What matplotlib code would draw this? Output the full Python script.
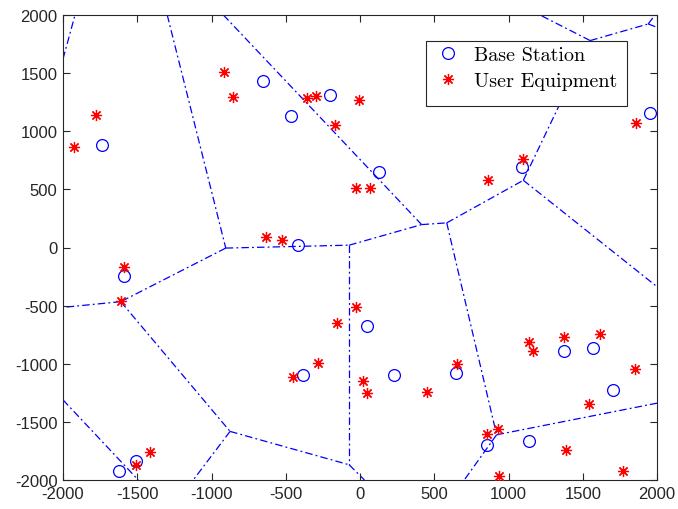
import matplotlib
matplotlib.use("Agg")
import matplotlib.pyplot as plt
from matplotlib.patches import Rectangle
import numpy as np

# Base station positions (m)
bs_x = [-1740, -651, -465, -202, -415, 128, 1093, 1953, -1589, -382,
        45, -1621, -1510, 231, 644, 1374, 1567, 1706, 1140, 857]
bs_y = [878, 1436, 1127, 1316, 20, 650, 693, 1159, -246, -1101,
        -675, -1920, -1840, -1101, -1082, -890, -861, -1225, -1668, -1702]

# User equipment positions (m)
ue_x = [-1924, -1780, -914, -857, -355, -296, -166, -5, -27, 70,
        -635, -527, 1100, 864, 1857, -1589, -1611, -449, -285, -157,
        -27, 18, 45, -1510, -1414, 651, 453, 1140, 1163, 1376,
        1616, 1852, 1544, 1385, 1773, 857, 927, 938]
ue_y = [864, 1136, 1508, 1293, 1285, 1302, 1050, 1265, 512, 508,
        92, 63, 764, 578, 1070, -166, -461, -1110, -990, -652,
        -515, -1147, -1253, -1869, -1762, -1004, -1245, -809, -890, -773,
        -747, -1047, -1345, -1745, -1920, -1605, -1562, -1968]

# Voronoi vertices (interior ones first, then where edges leave the area)
vx = [-904, -73, 415, 584, 920, 1100, 1550, 1941, -1611, -875, -73,
      -2000, -1919, -1298, 30, -1123, -2000, -1493, -920, 2000, 702,
      1212, 1986, 2000, 2000, -2000]
vy = [-5, 20, 197, 212, -1611, 578, 1780, 1923, -466, -1582, -1869,
      1622, 2000, 2000, -2000, -2000, -1311, -2000, 2000, -1339, -2000,
      2000, 2000, 1894, -337, -515]

# Voronoi edges as pairs of vertex indices
edges = [(11, 12), (13, 0), (0, 1), (1, 10), (10, 14), (9, 10), (8, 9),
         (0, 8), (8, 25), (9, 15), (16, 17), (1, 2), (18, 2), (2, 3),
         (3, 4), (4, 19), (4, 20), (3, 5), (5, 6), (6, 21), (6, 7),
         (7, 22), (7, 23), (5, 24)]

plt.rcParams["axes.unicode_minus"] = False

fig = plt.figure(figsize=(6.78, 5.10), dpi=100)
ax = fig.add_axes([63 / 678, 1 - 481 / 510, 594 / 678, 465 / 510])

for i, j in edges:
    ax.plot([vx[i], vx[j]], [vy[i], vy[j]], color="#0000ff", lw=0.9,
            dashes=(6, 2.5, 1.5, 2.5), zorder=1)

ax.plot(bs_x, bs_y, linestyle="none", marker="o", markersize=8.5,
        markerfacecolor="none", markeredgecolor="#0000ff",
        markeredgewidth=0.9, label="Base Station", zorder=3)
ax.plot(ue_x, ue_y, linestyle="none", marker=(8, 2, 0), markersize=8,
        color="#ff0000", markeredgewidth=0.9, label="User Equipment",
        zorder=3)

ax.set_xlim(-2000, 2000)
ax.set_ylim(-2000, 2000)
ticks = np.arange(-2000, 2001, 500)
ax.set_xticks(ticks)
ax.set_yticks(ticks)

axis_col = "#262626"
for s in ax.spines.values():
    s.set_color(axis_col)
    s.set_linewidth(0.8)
ax.tick_params(direction="in", top=True, right=True, length=5,
               width=0.8, color=axis_col, labelcolor=axis_col,
               labelsize=12, pad=4)
for lab in ax.get_xticklabels() + ax.get_yticklabels():
    lab.set_family("Liberation Sans")

# Legend box (white with a thin dark frame) and its entries
ax.add_patch(Rectangle((0.611, 0.804), 0.9495 - 0.611, 0.944 - 0.804,
                       transform=ax.transAxes, facecolor="white",
                       edgecolor=axis_col, lw=0.8, zorder=4))
leg = ax.legend(loc="upper left", bbox_to_anchor=(0.631, 0.933),
                prop={"family": "cmr10", "size": 14.5},
                frameon=False, handlelength=1.0, handletextpad=0.8,
                borderpad=0, labelspacing=0.4, borderaxespad=0)
leg.set_zorder(5)

fig.savefig("out.png", dpi=100)
